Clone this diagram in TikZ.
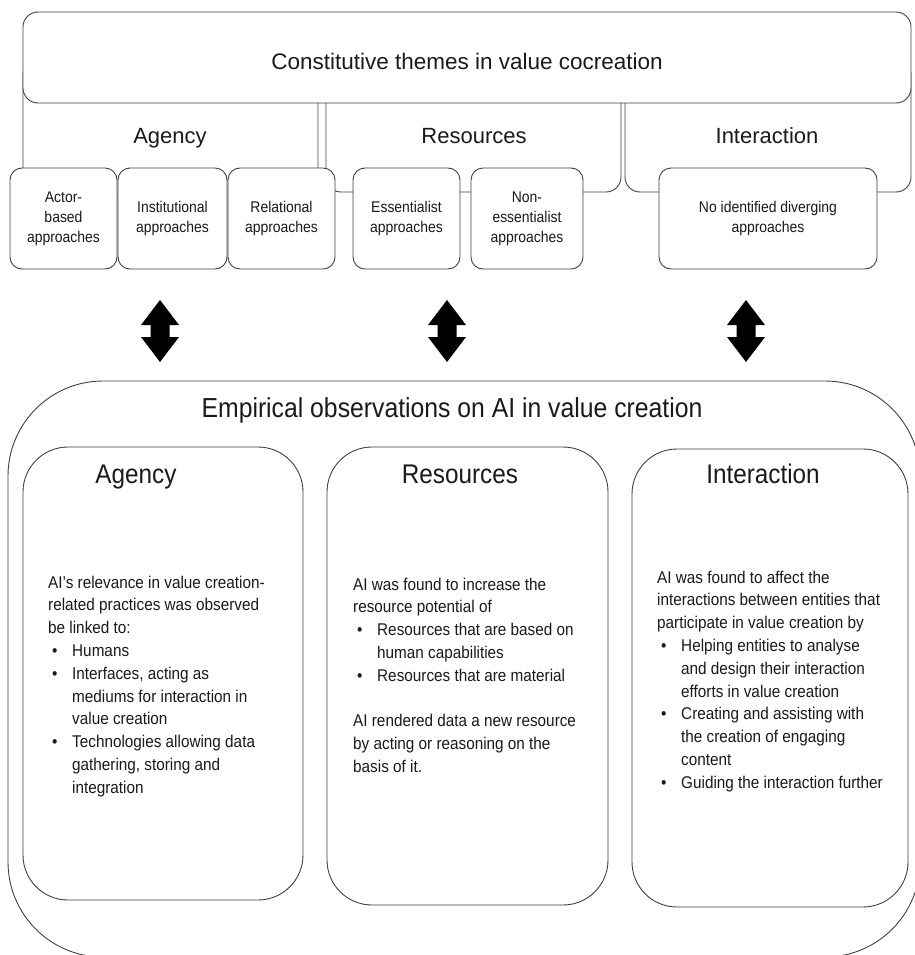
\documentclass[tikz,border=0pt]{standalone}
\usepackage{fontspec}
\setmainfont{Liberation Sans}
\newfontfamily\condfont{Liberation Sans}[FakeStretch=0.9]
\definecolor{linec}{HTML}{404040}
\definecolor{txtc}{HTML}{1A1A1A}
\newcommand{\bitem}{\makebox[24pt][l]{\hspace{4pt}\textbullet}}
\newcommand{\bcont}{\hspace*{24pt}}
\begin{document}
\begin{tikzpicture}[x=1pt,y=-1pt,
  box/.style={draw=linec, line width=0.9pt, fill=white, inner sep=0pt},
  grp/.style={box, rounded corners=15pt},
  small/.style={box, rounded corners=12pt, minimum height=101pt, align=center, text=txtc,
    font={\condfont\fontsize{15.5}{20}\selectfont}},
  big/.style={box, rounded corners=45pt},
  toplbl/.style={anchor=base, text=txtc, inner sep=0pt, font={\fontsize{22}{26}\selectfont}},
  botlbl/.style={anchor=base, text=txtc, inner sep=0pt, font={\condfont\fontsize{27}{30}\selectfont}},
  body/.style={anchor=north west, text=txtc, inner sep=0pt, align=left,
    font={\condfont\fontsize{17}{22.8}\selectfont}},
  fatarrow/.style={fill=black, draw=none}
]
\useasboundingbox (0,0) rectangle (914,955);

% --- top part: groups behind the header
\node[grp, minimum width=295pt, minimum height=135pt] (gA) at (170.5,127.5) {};
\node[grp, minimum width=295pt, minimum height=132pt] (gR) at (473.5,126) {};
\node[grp, minimum width=286pt, minimum height=132pt] (gI) at (768,126) {};
\node[box, rounded corners=15pt, minimum width=888pt, minimum height=91pt] (top) at (467,57.5) {};
\node[anchor=base, text=txtc, inner sep=0pt, font={\fontsize{22.5}{27}\selectfont}] (toptitle) at (467,70) {Constitutive themes in value cocreation};

\node[toplbl] (lA) at (170,143) {Agency};
\node[toplbl] (lR) at (474,143) {Resources};
\node[toplbl] (lI) at (767,143) {Interaction};

% small boxes
\node[small, minimum width=107pt] (actor) at (63.5,218.5) {Actor-\\based\\approaches};
\node[small, minimum width=109pt] (inst) at (172.5,218.5) {Institutional\\approaches};
\node[small, minimum width=107pt] (rel) at (281.5,218.5) {Relational\\approaches};
\node[small, minimum width=107pt] (ess) at (406.5,218.5) {Essentialist\\approaches};
\node[small, minimum width=112pt] (noness) at (527,218.5) {Non-\\essentialist\\approaches};
\node[small, minimum width=218pt] (noid) at (768,218.5) {No identified diverging\\approaches};

% double arrows
\foreach \cx in {160,447,746}{
  \fill[fatarrow] (\cx,300) -- (\cx+19,325) -- (\cx+9.5,325) -- (\cx+9.5,337) -- (\cx+19,337)
    -- (\cx,362) -- (\cx-19,337) -- (\cx-9.5,337) -- (\cx-9.5,325) -- (\cx-19,325) -- cycle;
}

% --- bottom part
\node[box, rounded corners=95pt, minimum width=912pt, minimum height=576pt] (outer) at (464,669) {};
\node[anchor=base, text=txtc, inner sep=0pt, font={\condfont\fontsize{27.5}{30}\selectfont}] (bottitle) at (452,417) {Empirical observations on AI in value creation};

\node[big, minimum width=280pt, minimum height=453pt] (bA) at (163,673.5) {};
\node[big, minimum width=281pt, minimum height=458pt] (bR) at (467.5,676) {};
\node[big, minimum width=276pt, minimum height=458pt] (bI) at (770,678) {};

\node[botlbl] (hA) at (136,483) {Agency};
\node[botlbl] (hR) at (460,483) {Resources};
\node[botlbl] (hI) at (763,483) {Interaction};

\node[body] (tA) at (48,575.5) {AI’s relevance in value creation-\\
related practices was observed\\
be linked to:\\
\bitem Humans\\
\bitem Interfaces, acting as\\
\bcont mediums for interaction in\\
\bcont value creation\\
\bitem Technologies allowing data\\
\bcont gathering, storing and\\
\bcont integration};

\node[body] (tR) at (353,577.5) {AI was found to increase the\\
resource potential of\\
\bitem Resources that are based on\\
\bcont human capabilities\\
\bitem Resources that are material\\[22.8pt]
AI rendered data a new resource\\
by acting or reasoning on the\\
basis of it.};

\node[body] (tI) at (657,570.5) {AI was found to affect the\\
interactions between entities that\\
participate in value creation by\\
\bitem Helping entities to analyse\\
\bcont and design their interaction\\
\bcont efforts in value creation\\
\bitem Creating and assisting with\\
\bcont the creation of engaging\\
\bcont content\\
\bitem Guiding the interaction further};
\end{tikzpicture}
\end{document}
